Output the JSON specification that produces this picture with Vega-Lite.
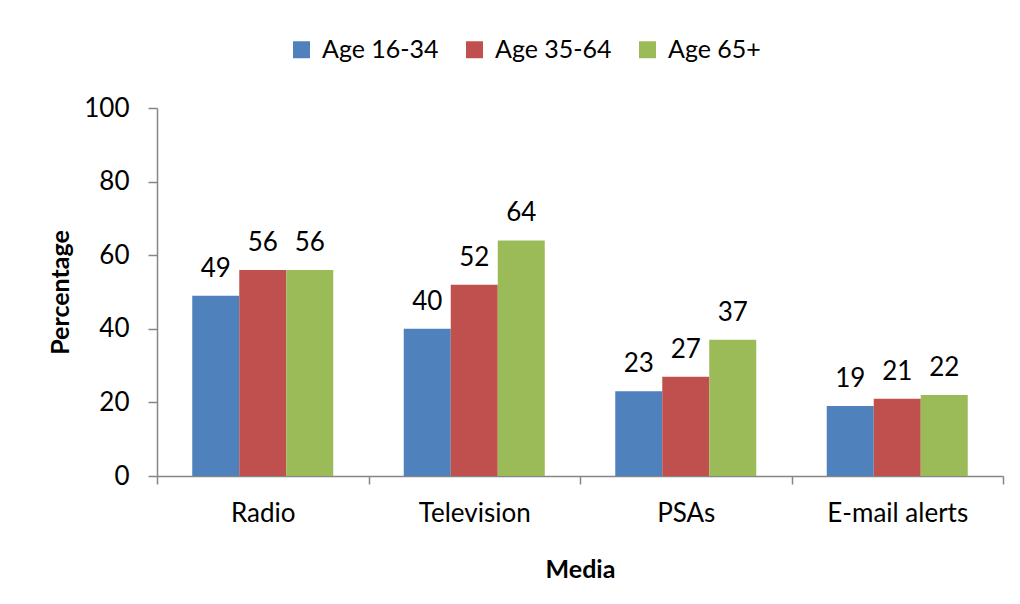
{
  "$schema": "https://vega.github.io/schema/vega-lite/v6.json",
  "autosize": "none",
  "width": 846,
  "height": 368,
  "padding": {"left": 157, "top": 108, "right": 17, "bottom": 128},
  "background": "white",
  "data": {
    "values": [
      {"media": "Radio", "age": "Age 16-34", "value": 49},
      {"media": "Radio", "age": "Age 35-64", "value": 56},
      {"media": "Radio", "age": "Age 65+", "value": 56},
      {"media": "Television", "age": "Age 16-34", "value": 40},
      {"media": "Television", "age": "Age 35-64", "value": 52},
      {"media": "Television", "age": "Age 65+", "value": 64},
      {"media": "PSAs", "age": "Age 16-34", "value": 23},
      {"media": "PSAs", "age": "Age 35-64", "value": 27},
      {"media": "PSAs", "age": "Age 65+", "value": 37},
      {"media": "E-mail alerts", "age": "Age 16-34", "value": 19},
      {"media": "E-mail alerts", "age": "Age 35-64", "value": 21},
      {"media": "E-mail alerts", "age": "Age 65+", "value": 22}
    ]
  },
  "encoding": {
    "x": {
      "field": "media",
      "type": "nominal",
      "sort": ["Radio", "Television", "PSAs", "E-mail alerts"],
      "scale": {"paddingInner": 0, "paddingOuter": 0},
      "axis": {
        "title": "Media",
        "labelAngle": 0,
        "tickBand": "extent",
        "tickSize": 8,
        "labelPadding": 16,
        "titlePadding": 31
      }
    },
    "xOffset": {
      "field": "age",
      "type": "nominal",
      "sort": ["Age 16-34", "Age 35-64", "Age 65+"],
      "scale": {"paddingInner": 0, "paddingOuter": 0.75}
    },
    "y": {
      "field": "value",
      "type": "quantitative",
      "scale": {"domain": [0, 100]},
      "axis": {
        "title": "Percentage",
        "values": [0, 20, 40, 60, 80, 100],
        "grid": false,
        "tickSize": 9,
        "labelPadding": 19,
        "titlePadding": 10
      }
    }
  },
  "layer": [
    {
      "mark": {"type": "bar", "stroke": null},
      "encoding": {
        "color": {
          "field": "age",
          "type": "nominal",
          "sort": ["Age 16-34", "Age 35-64", "Age 65+"],
          "scale": {"range": ["#4F81BD", "#C0504D", "#9BBB59"]},
          "legend": {
            "title": null,
            "orient": "none",
            "direction": "horizontal",
            "legendX": 132,
            "legendY": -71,
            "symbolType": "square",
            "symbolSize": 289,
            "symbolStrokeWidth": 0,
            "symbolOpacity": 1,
            "labelFontSize": 25,
            "labelFont": "Lato",
            "labelColor": "black",
            "labelOffset": 8,
            "columnPadding": 23
          }
        }
      }
    },
    {
      "mark": {"type": "text", "font": "Lato", "fontSize": 26, "color": "black", "baseline": "alphabetic", "dy": -19},
      "encoding": {"text": {"field": "value", "type": "quantitative"}}
    }
  ],
  "config": {
    "view": {"stroke": null},
    "axis": {
      "labelFont": "Lato",
      "labelFontSize": 26,
      "labelColor": "black",
      "titleFont": "Lato",
      "titleFontSize": 25,
      "titleFontWeight": "bold",
      "titleColor": "black",
      "domainColor": "#868686",
      "domainWidth": 1.5,
      "tickColor": "#868686",
      "tickWidth": 1.5
    }
  }
}
